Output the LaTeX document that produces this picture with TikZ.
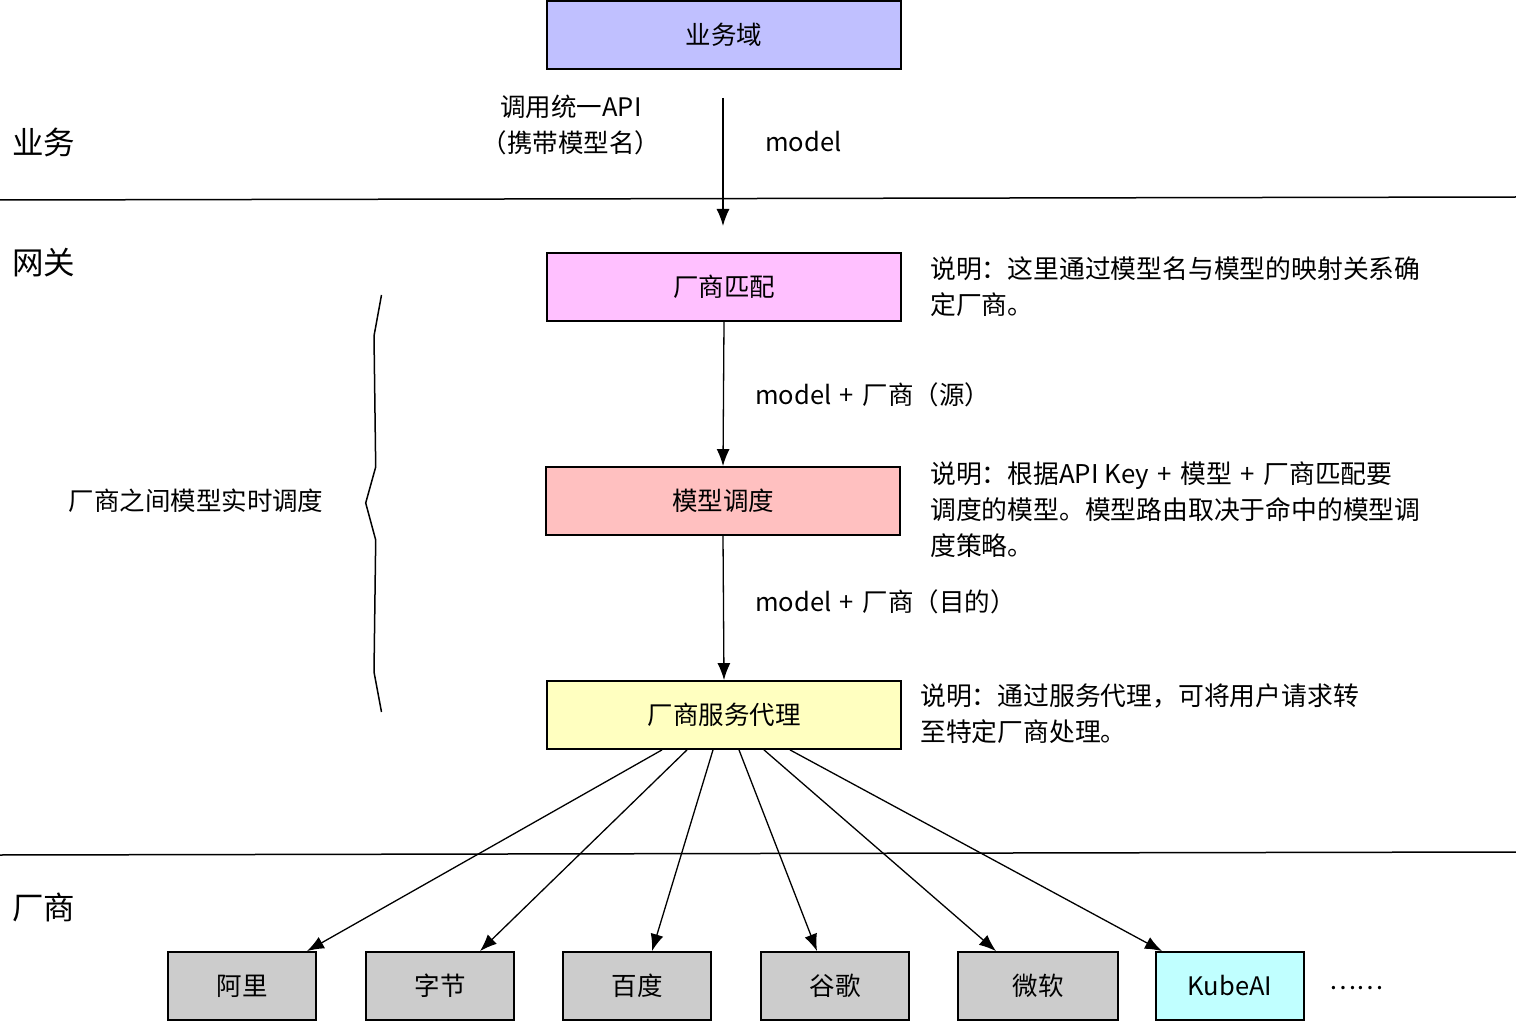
\documentclass[tikz,border=0pt]{standalone}
\usepackage{fontspec}
\setmainfont{Noto Sans CJK SC}
\usetikzlibrary{arrows.meta}
\definecolor{cblue}{HTML}{C0C0FF}
\definecolor{cpink}{HTML}{FFC0FF}
\definecolor{cred}{HTML}{FFC0C0}
\definecolor{cyel}{HTML}{FFFFC0}
\definecolor{cgray}{HTML}{CCCCCC}
\definecolor{ccyan}{HTML}{C0FFFF}
\tikzset{
  box/.style={draw=black, line width=1.8pt, minimum width=354pt, minimum height=68pt, inner sep=0pt, font=\fontsize{25.5}{30}\selectfont},
  vbox/.style={draw=black, line width=1.8pt, fill=cgray, minimum width=148pt, minimum height=68pt, inner sep=0pt, font=\fontsize{25.5}{30}\selectfont},
  arr/.style={line width=1.3pt, -{Latex[length=17pt,width=13pt]}},
  lbl/.style={inner sep=0pt, font=\fontsize{25.5}{36}\selectfont},
  desc/.style={inner sep=0pt, anchor=north west, align=left, font=\fontsize{25.8}{36}\selectfont},
  zone/.style={inner sep=0pt, anchor=west, font=\fontsize{31.5}{36}\selectfont},
  sep/.style={line width=1.5pt}
}
\begin{document}
\begin{tikzpicture}[x=1pt,y=-1pt]
\useasboundingbox (0,0) rectangle (1516,1024);
% separators
\coordinate (s1a) at (0,200);
\coordinate (s1b) at (1516,197);
\coordinate (s2a) at (0,855);
\coordinate (s2b) at (1516,852);
\draw[sep] (s1a) -- (s1b);
\draw[sep] (s2a) -- (s2b);
% zone labels
\node[zone] (zbiz) at (12,142) {业务};
\node[zone] (zgw) at (12,263) {网关};
\node[zone] (zven) at (12,907) {厂商};
% boxes
\node[box, fill=cblue] (dom) at (724,35) {业务域};
\node[box, fill=cpink] (match) at (724,287) {厂商匹配};
\node[box, fill=cred] (sched) at (723,501) {模型调度};
\node[box, fill=cyel] (proxy) at (724,715) {厂商服务代理};
% vendor boxes
\node[vbox] (ali) at (242,986) {阿里};
\node[vbox] (zj) at (440,986) {字节};
\node[vbox] (bd) at (637,986) {百度};
\node[vbox] (gg) at (835,986) {谷歌};
\node[vbox, minimum width=160pt] (wr) at (1038,986) {微软};
\node[vbox, fill=ccyan] (kube) at (1230,986) {KubeAI};
\node[lbl] (dots) at (1356,988) {……};
% top arrow
\coordinate (ta) at (723,98);
\coordinate (tb) at (723,226);
\draw[arr] (ta) -- (tb);
\node[lbl, align=center] (call) at (571,125) {调用统一API\\（携带模型名）};
\node[lbl, anchor=west] (mdl) at (765,142) {model};
% middle arrows
\draw[arr] (match.south) -- (sched.north);
\node[lbl, anchor=west] (l1) at (755,395) {model\,\,+\,\,厂商（源）};
\draw[arr] (sched.south) -- (proxy.north);
\node[lbl, anchor=west] (l2) at (755,602) {model\,\,+\,\,厂商（目的）};
% descriptions
\node[desc] (d1) at (930,256) {说明：这里通过模型名与模型的映射关系确\\定厂商。};
\node[desc] (d2) at (930,462) {说明：根据API Key\,\,+\,\,模型\,\,+\,\,厂商匹配要\\调度的模型。模型路由取决于命中的模型调\\度策略。};
\node[desc] (d3) at (920,683) {说明：通过服务代理，可将用户请求转\\至特定厂商处理。};
% brace
\draw[line width=1.5pt, line join=miter] (381.5,295) -- (374,336) -- (375.7,467) -- (365.7,503) -- (375.7,540) -- (374,672) -- (381.5,712);
\node[lbl, anchor=center] (rt) at (196,501) {厂商之间模型实时调度};
% fan-out arrows
\draw[arr] ([xshift=-62pt]proxy.south) -- ([xshift=65pt]ali.north);
\draw[arr] ([xshift=-37pt]proxy.south) -- ([xshift=40pt]zj.north);
\draw[arr] ([xshift=-11pt]proxy.south) -- ([xshift=15pt]bd.north);
\draw[arr] ([xshift=15pt]proxy.south) -- ([xshift=-18pt]gg.north);
\draw[arr] ([xshift=40pt]proxy.south) -- ([xshift=-42pt]wr.north);
\draw[arr] ([xshift=66pt]proxy.south) -- ([xshift=-68pt]kube.north);
\end{tikzpicture}
\end{document}
